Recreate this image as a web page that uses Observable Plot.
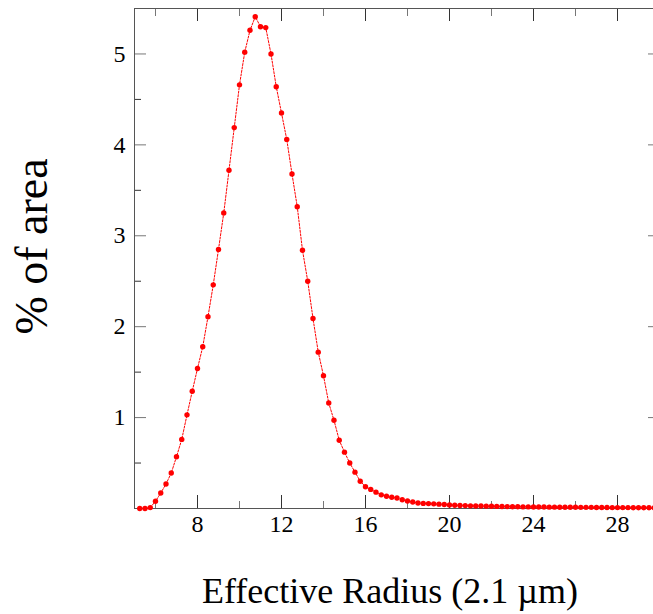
<!DOCTYPE html>
<html><head><meta charset="utf-8">
<script src="https://cdn.jsdelivr.net/npm/d3@7"></script>
<script src="https://cdn.jsdelivr.net/npm/@observablehq/plot@0.6"></script>
<style>
html,body{margin:0;padding:0;background:#fff;overflow:hidden;width:653px;height:614px;}
svg{max-width:none !important;}
</style></head><body><div id="chart"></div>
<script>
const radius = [5.25,5.5,5.75,6,6.25,6.5,6.75,7,7.25,7.5,7.75,8,8.25,8.5,8.75,9,9.25,9.5,9.75,10,
  10.25,10.5,10.75,11,11.25,11.5,11.75,12,12.25,12.5,12.75,13,13.25,13.5,13.75,14,14.25,14.5,14.75,15,
  15.25,15.5,15.75,16,16.25,16.5,16.75,17,17.25,17.5,17.75,18,18.25,18.5,18.75,19,19.25,19.5,19.75,20,
  20.25,20.5,20.75,21,21.25,21.5,21.75,22,22.25,22.5,22.75,23,23.25,23.5,23.75,24,24.25,24.5,24.75,25,
  25.25,25.5,25.75,26,26.25,26.5,26.75,27,27.25,27.5,27.75,28,28.25,28.5,28.75,29,29.25,29.5,29.75,30];
const percentArea = [0.00,0.00,0.01,0.08,0.17,0.27,0.39,0.57,0.76,1.03,1.29,1.54,1.78,2.11,2.46,2.85,3.25,3.72,4.19,4.66,
  5.02,5.26,5.41,5.30,5.29,5.00,4.64,4.35,4.06,3.68,3.32,2.84,2.50,2.09,1.72,1.46,1.16,0.97,0.75,0.62,
  0.50,0.40,0.30,0.24,0.21,0.18,0.15,0.135,0.124,0.115,0.097,0.082,0.071,0.060,0.056,0.054,0.051,0.048,0.044,0.038,
  0.036,0.033,0.032,0.029,0.028,0.027,0.026,0.025,0.023,0.022,0.021,0.020,0.019,0.018,0.018,0.017,0.016,0.016,0.015,0.015,
  0.014,0.014,0.013,0.013,0.012,0.012,0.012,0.011,0.011,0.011,0.010,0.010,0.010,0.010,0.009,0.009,0.009,0.009,0.008,0.008];
const xMajorTicks = [8,12,16,20,24,28];
const xMinorTicks = [6,10,14,18,22,26,30];
const yMajorTicks = [1,2,3,4,5];
const yMinorTicks = [0.5,1.5,2.5,3.5,4.5];
const xTitle = "Effective Radius (2.1 \u00b5m)";
const yTitle = "% of area";

const data = radius.map((r, i) => ({r, p: percentArea[i]}));
const font = "'Liberation Serif', 'Times New Roman', serif";
const tickColor = "#333";
const minorColor = "#777";

const chart = Plot.plot({
  width: 660, height: 614,
  marginLeft: 134, marginRight: 1, marginTop: 8, marginBottom: 106,
  style: {fontFamily: font, background: "white", maxWidth: "none", color: "black"},
  x: {domain: [5, 30]},
  y: {domain: [0, 5.5]},
  marks: [
    Plot.axisX({anchor: "bottom", ticks: xMajorTicks, tickSize: -13, fill: "none", stroke: tickColor, label: null}),
    Plot.axisX({anchor: "bottom", ticks: xMinorTicks, tickSize: -7, fill: "none", stroke: minorColor, label: null}),
    Plot.axisX({anchor: "top", ticks: xMajorTicks, tickSize: -12, fill: "none", stroke: tickColor, label: null}),
    Plot.axisX({anchor: "top", ticks: xMinorTicks, tickSize: -7, fill: "none", stroke: minorColor, label: null}),
    Plot.axisY({anchor: "left", ticks: yMajorTicks, tickSize: -12, fill: "none", stroke: minorColor, label: null}),
    Plot.axisY({anchor: "left", ticks: yMinorTicks, tickSize: -7, fill: "none", stroke: tickColor, label: null}),
    Plot.axisY({anchor: "right", ticks: yMajorTicks, tickSize: -12, fill: "none", stroke: minorColor, label: null}),
    Plot.axisY({anchor: "right", ticks: yMinorTicks, tickSize: -7, fill: "none", stroke: tickColor, label: null}),
    Plot.axisX({anchor: "bottom", ticks: xMajorTicks, tickSize: 0, tickPadding: 6, fontSize: 24, fill: "black", tickFormat: d => String(d), label: null}),
    Plot.axisY({anchor: "left", ticks: yMajorTicks, tickSize: 0, tickPadding: 9, fontSize: 24, fill: "black", tickFormat: d => String(d), label: null}),
    Plot.frame({stroke: "#555"}),
    Plot.line(data, {x: "r", y: "p", stroke: "#ff0000", strokeWidth: 1, strokeDasharray: "2,1.5"}),
    Plot.dot(data, {x: "r", y: "p", fill: "#ff0000", r: 2.7}),
    Plot.text([xTitle], {text: d => d, frameAnchor: "bottom", textAnchor: "middle", lineAnchor: "middle", dx: -7, dy: 83, fontSize: 36, fill: "black"}),
    Plot.text([yTitle], {text: d => d, frameAnchor: "left", textAnchor: "middle", lineAnchor: "middle", rotate: -90, dx: -102, dy: -12, fontSize: 46, fill: "black"})
  ]
});
document.getElementById("chart").appendChild(chart);
</script>
</body></html>
